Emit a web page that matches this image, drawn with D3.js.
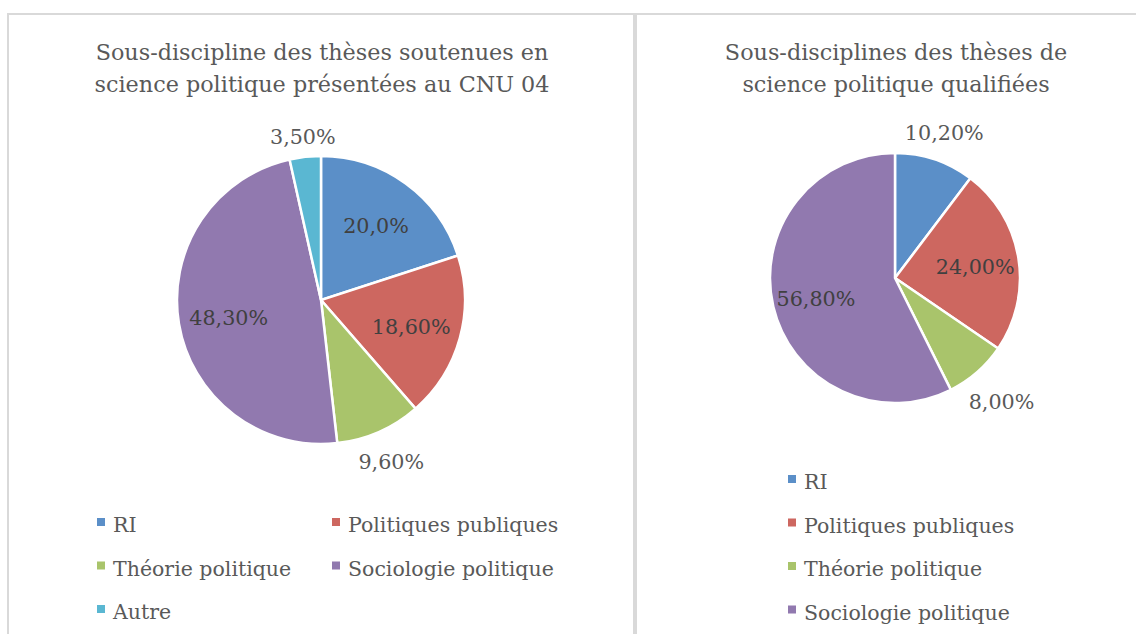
<!DOCTYPE html>
<html>
<head>
<meta charset="utf-8">
<script src="https://cdn.jsdelivr.net/npm/d3@7"></script>
<style>
  html, body { margin: 0; padding: 0; background: #fff; }
  svg text { font-family: "DejaVu Serif", serif; }
</style>
</head>
<body>
<div id="chart"></div>
<script>
// categories and values
var categoriesLeft = ["RI", "Politiques publiques", "Théorie politique", "Sociologie politique", "Autre"];
var valuesLeft = [20.0, 18.6, 9.6, 48.3, 3.5];
var labelsLeft = ["20,0%", "18,60%", "9,60%", "48,30%", "3,50%"];
var titleLeft = ["Sous-discipline des thèses soutenues en", "science politique présentées au CNU 04"];

var categoriesRight = ["RI", "Politiques publiques", "Théorie politique", "Sociologie politique"];
var valuesRight = [10.2, 24.0, 8.0, 56.8];
var labelsRight = ["10,20%", "24,00%", "8,00%", "56,80%"];
var titleRight = ["Sous-disciplines des thèses de", "science politique qualifiées"];

var colors = ["#5b8fc8", "#cd6760", "#a9c46b", "#9179af", "#5ab7d2"];

var svg = d3.select("#chart")
    .append("svg")
    .attr("width", 1136)
    .attr("height", 634);

// chart area frames
svg.append("rect")
    .attr("x", 8).attr("y", 14)
    .attr("width", 626).attr("height", 640)
    .attr("fill", "none")
    .attr("stroke", "#d9d9d9")
    .attr("stroke-width", 2);
svg.append("rect")
    .attr("x", 636).attr("y", 14)
    .attr("width", 540).attr("height", 640)
    .attr("fill", "none")
    .attr("stroke", "#d9d9d9")
    .attr("stroke-width", 2);

function drawPanel(cfg) {
    var g = svg.append("g");

    g.selectAll(".title")
        .data(cfg.title)
        .enter()
        .append("text")
        .attr("class", "title")
        .attr("x", cfg.cx + 1)
        .attr("y", function(d, i) { return 59.5 + i * 32.5; })
        .attr("text-anchor", "middle")
        .attr("font-size", 22.3)
        .attr("fill", "#595959")
        .text(function(d) { return d; });

    var pie = d3.pie().sort(null).value(function(d) { return d; });
    var arcs = pie(cfg.values);
    var arc = d3.arc().innerRadius(0).outerRadius(cfg.r);

    var pg = g.append("g").attr("transform", "translate(" + cfg.cx + "," + cfg.cy + ")");

    pg.selectAll("path")
        .data(arcs)
        .enter()
        .append("path")
        .attr("d", arc)
        .attr("fill", function(d, i) { return colors[i]; })
        .attr("stroke", "#fff")
        .attr("stroke-width", 2.5);

    var total = d3.sum(cfg.values);
    pg.selectAll(".lbl")
        .data(arcs)
        .enter()
        .append("text")
        .attr("class", "lbl")
        .attr("text-anchor", "middle")
        .attr("font-size", 20.7)
        .attr("fill", function(d) { return d.value / total < 0.12 ? "#595959" : "#404040"; })
        .text(function(d, i) { return cfg.labels[i]; })
        .each(function(d) {
            var a = (d.startAngle + d.endAngle) / 2;
            var s = Math.sin(a), c = -Math.cos(a);
            var dist;
            if (d.value / total < 0.12) {
                var w = this.getComputedTextLength();
                dist = cfg.r + 8 + Math.abs(s) * w / 2 + Math.abs(c) * 10;
            } else {
                dist = cfg.r * 0.65;
            }
            d3.select(this)
                .attr("x", s * dist)
                .attr("y", c * dist + 9);
        });

    var lg = g.selectAll(".leg")
        .data(cfg.categories)
        .enter()
        .append("g")
        .attr("class", "leg")
        .attr("transform", function(d, i) {
            var col = i % cfg.cols, row = Math.floor(i / cfg.cols);
            return "translate(" + (cfg.legX + col * 235) + "," + (cfg.legY + row * 43.5) + ")";
        });
    lg.append("rect")
        .attr("x", -16).attr("y", -14)
        .attr("width", 8).attr("height", 8)
        .attr("fill", function(d, i) { return colors[i]; });
    lg.append("text")
        .attr("font-size", 20.5)
        .attr("fill", "#595959")
        .text(function(d) { return d; });
}

drawPanel({
    title: titleLeft, categories: categoriesLeft, values: valuesLeft, labels: labelsLeft,
    cx: 321, cy: 300, r: 144, legX: 113, legY: 532, cols: 2
});
drawPanel({
    title: titleRight, categories: categoriesRight, values: valuesRight, labels: labelsRight,
    cx: 895, cy: 278, r: 125, legX: 804, legY: 489, cols: 1
});
</script>
</body>
</html>
